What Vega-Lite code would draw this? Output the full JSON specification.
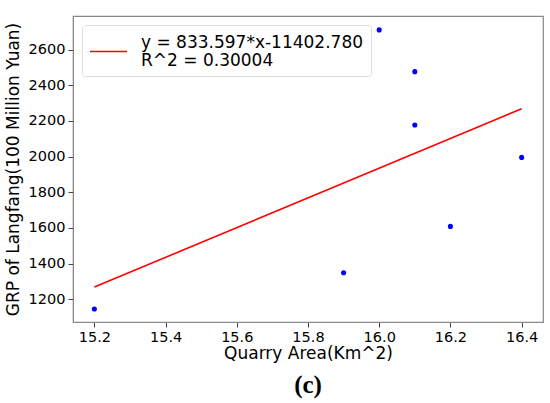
{
  "$schema": "https://vega.github.io/schema/vega-lite/v6.json",
  "width": 470,
  "height": 306,
  "autosize": "none",
  "padding": {"left": 73, "top": 16, "right": 7, "bottom": 81},
  "background": "white",
  "config": {
    "font": "DejaVu Sans",
    "view": {"stroke": "#888888", "strokeWidth": 1.2},
    "style": {"guide-label": {"lineHeight": 18}},
    "axis": {
      "grid": false,
      "domainColor": "#888888",
      "tickColor": "#444444",
      "tickSize": 5,
      "labelFont": "DejaVu Sans",
      "labelFontSize": 14.5,
      "labelColor": "black",
      "titleFont": "DejaVu Sans",
      "titleFontSize": 17,
      "titleFontWeight": "normal",
      "titleColor": "black"
    }
  },
  "title": {
    "text": "(c)",
    "orient": "bottom",
    "font": "Liberation Serif",
    "fontSize": 25,
    "fontWeight": "bold",
    "color": "black",
    "offset": 11
  },
  "datasets": {
    "points": [
      {"area": 15.2, "grp": 1145},
      {"area": 15.9, "grp": 1348},
      {"area": 16.0, "grp": 2710},
      {"area": 16.1, "grp": 2476},
      {"area": 16.1, "grp": 2177},
      {"area": 16.2, "grp": 1608},
      {"area": 16.4, "grp": 1995}
    ],
    "fit": [
      {"area": 15.2, "grp": 1267.9, "series": "fit"},
      {"area": 16.4, "grp": 2268.2, "series": "fit"}
    ]
  },
  "layer": [
    {
      "data": {"name": "fit"},
      "mark": {"type": "line", "strokeWidth": 1.6},
      "encoding": {
        "x": {"field": "area", "type": "quantitative"},
        "y": {"field": "grp", "type": "quantitative"},
        "color": {
          "field": "series",
          "type": "nominal",
          "scale": {"domain": ["fit"], "range": ["#ff0000"]},
          "legend": {
            "title": null,
            "orient": "none",
            "legendX": 9,
            "legendY": 9,
            "symbolType": "stroke",
            "symbolSize": 1369,
            "symbolStrokeWidth": 1.6,
            "labelExpr": "['y = 833.597*x-11402.780', 'R^2 = 0.30004']",
            "labelFont": "DejaVu Sans",
            "labelFontSize": 17,
            "labelColor": "black",
            "labelBaseline": "line-bottom",
            "labelLimit": 0,
            "labelOffset": 13,
            "padding": 7,
            "fillColor": "white",
            "strokeColor": "#dddddd",
            "cornerRadius": 3
          }
        }
      }
    },
    {
      "data": {"name": "points"},
      "mark": {"type": "circle", "size": 26, "opacity": 1, "color": "#0000ff"},
      "encoding": {
        "x": {
          "field": "area",
          "type": "quantitative",
          "title": "Quarry Area(Km^2)",
          "scale": {"domain": [15.14, 16.46], "nice": false, "zero": false},
          "axis": {"values": [15.2, 15.4, 15.6, 15.8, 16.0, 16.2, 16.4], "format": ".1f", "labelPadding": 3, "titlePadding": 2}
        },
        "y": {
          "field": "grp",
          "type": "quantitative",
          "title": "GRP of Langfang(100 Million Yuan)",
          "scale": {"domain": [1072, 2788], "nice": false, "zero": false},
          "axis": {"values": [1200, 1400, 1600, 1800, 2000, 2200, 2400, 2600], "format": "d", "labelPadding": 3, "titlePadding": 6}
        }
      }
    }
  ]
}
